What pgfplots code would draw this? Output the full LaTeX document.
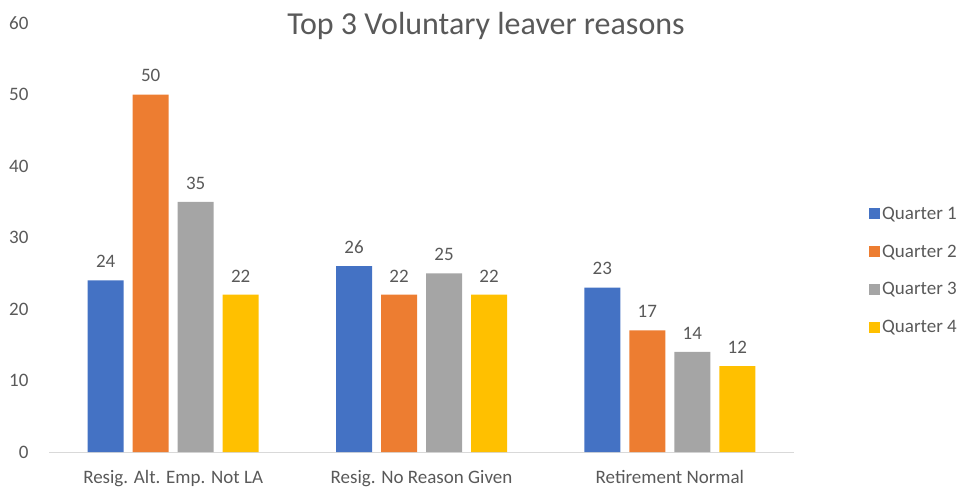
\documentclass[border=0pt]{standalone}
\usepackage{fontspec}
\setmainfont{Carlito}
\usepackage{pgfplots}
\pgfplotsset{compat=1.18}
\definecolor{qa}{HTML}{4472C4}
\definecolor{qb}{HTML}{ED7D31}
\definecolor{qc}{HTML}{A5A5A5}
\definecolor{qd}{HTML}{FFC000}
\definecolor{txt}{HTML}{595959}
\definecolor{axl}{HTML}{D9D9D9}
\newcommand{\lbl}{\fontsize{19bp}{22bp}\selectfont}
\begin{document}
\begin{tikzpicture}
\useasboundingbox (0,0) rectangle (968bp,491bp);
\node[text=txt, font=\fontsize{32bp}{36bp}\selectfont] at (486bp,465bp) {Top 3 Voluntary leaver reasons};
\begin{axis}[
  at={(49bp,39bp)}, anchor=south west,
  scale only axis, width=745bp, height=429bp,
  ymin=0, ymax=60, ytick={0,10,...,60},
  xmin=-0.5, xmax=2.5,
  xtick={0,1,2},
  xticklabels={Resig. Alt. Emp. Not LA, Resig. No Reason Given, Retirement Normal},
  axis y line*=left, y axis line style={draw=none},
  axis x line*=bottom, x axis line style={draw=axl, line width=1bp},
  major tick length=0pt,
  ybar, bar width=36bp, 
  /pgf/number format/assume math mode=true,
  tick label style={text=txt, font=\lbl},
  yticklabel style={xshift=-17bp},
  xticklabel style={yshift=-15bp},
  nodes near coords,
  every node near coord/.append style={text=txt, font=\lbl, yshift=9bp},
  legend style={at={(1,0.423)}, anchor=west, xshift=72bp, draw=none, fill=none,
    font=\lbl, text=txt, row sep=20bp, cells={anchor=west}},
  legend image code/.code={\fill[#1] (0bp,-5.5bp) rectangle (11bp,5.5bp);},
  clip=false,
]
\addplot[fill=qa, draw=none, bar shift=-67.5bp] coordinates {(0,24) (1,26) (2,23)};
\addplot[fill=qb, draw=none, bar shift=-22.5bp] coordinates {(0,50) (1,22) (2,17)};
\addplot[fill=qc, draw=none, bar shift=22.5bp] coordinates {(0,35) (1,25) (2,14)};
\addplot[fill=qd, draw=none, bar shift=67.5bp] coordinates {(0,22) (1,22) (2,12)};
\legend{Quarter 1, Quarter 2, Quarter 3, Quarter 4}
\end{axis}
\end{tikzpicture}
\end{document}
